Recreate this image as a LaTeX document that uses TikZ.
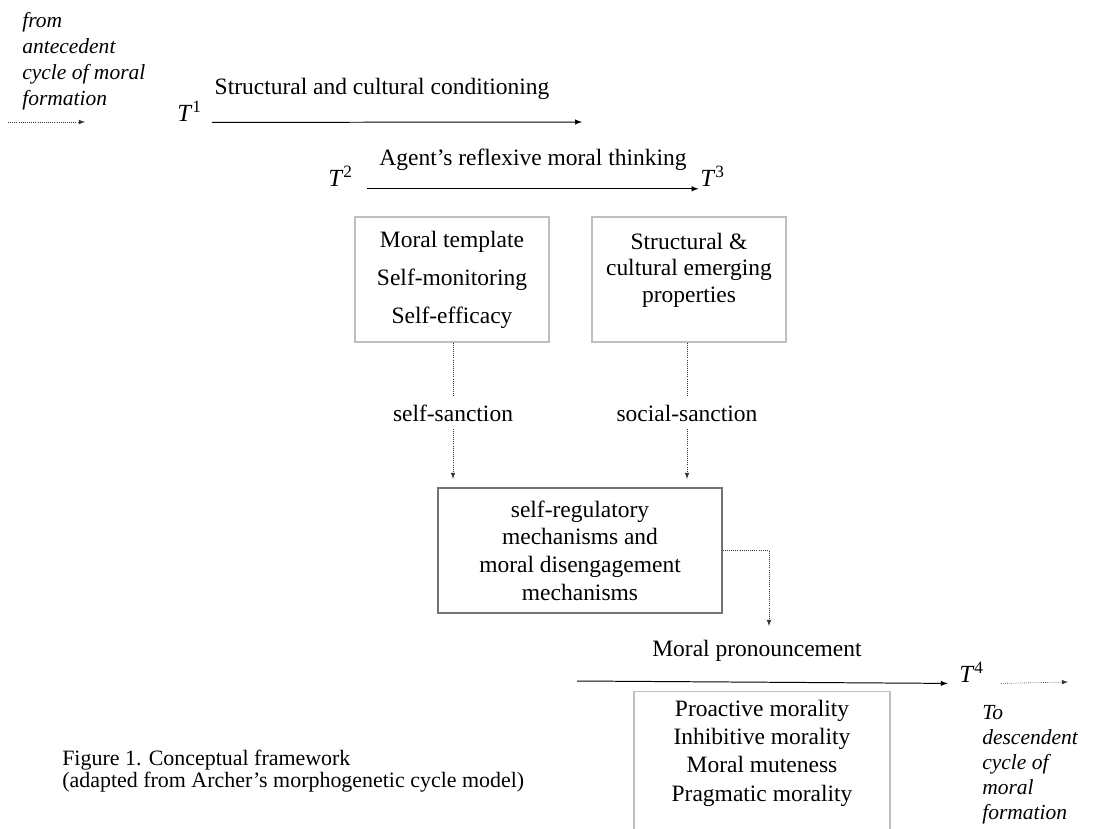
\documentclass[tikz,border=0pt]{standalone}
\usepackage{fontspec}
\setmainfont{Liberation Serif}
\usetikzlibrary{calc}

\newcommand{\tpoint}[1]{\textit{T}\textsuperscript{#1}}

\tikzset{
	lbl/.style={font=\fontsize{16.7}{20}\selectfont, inner sep=0pt},
	tlab/.style={font=\fontsize{17.5}{20}\selectfont, inner sep=0pt},
	note/.style={font=\fontsize{15.3}{18.5}\selectfont\itshape, align=left, inner sep=0pt},
	capt/.style={font=\fontsize{15.6}{15.8}\selectfont, align=left, inner sep=0pt},
	softbox/.style={draw=black!25, line width=1pt, align=center, inner sep=0pt},
	darkbox/.style={draw=black!55, line width=0.9pt, align=center, inner sep=0pt},
	mainarrow/.style={line width=0.7pt, -latex},
	dotarrow/.style={densely dotted, line width=0.5pt, draw=black!80, -latex},
	dotline/.style={densely dotted, line width=0.5pt, draw=black!80}
}

\begin{document}
\begin{tikzpicture}[x=0.025cm,y=-0.025cm]
	\useasboundingbox (0,0) rectangle (1093,829);
	\clip (0,0) rectangle (1093,829);
	% T1: conditioning
	\node[note, anchor=west] (from) at (22,61) {from\\antecedent\\cycle of moral\\formation};
	\coordinate (ins) at (8,122);
	\coordinate (ine) at (85,122);
	\draw[dotarrow] (ins) -- (ine);
	\node[tlab, anchor=base west] (t1) at (177,121) {\tpoint{1}};
	\coordinate (c1e) at (582,122);
	\draw[mainarrow] ([xshift=7pt,yshift=-1pt]t1.base east) -- (c1e);
	\node[lbl] (cond) at (382,89) {Structural and cultural conditioning};
	% T2-T3: reflexive thinking
	\node[lbl] (think) at (533,160) {Agent’s reflexive moral thinking};
	\node[tlab, anchor=base west] (t2) at (328,186) {\tpoint{2}};
	\node[tlab, anchor=base west] (t3) at (700,186) {\tpoint{3}};
	\draw[mainarrow] ([xshift=10pt,yshift=-2pt]t2.base east) -- ([xshift=-1pt,yshift=-2pt]t3.base west);
	\node[softbox, minimum width=4.85cm, minimum height=3.125cm, font=\fontsize{16.7}{27}\selectfont] (tmpl) at (452,279.5) {Moral template\\Self-monitoring\\Self-efficacy};
	\node[softbox, minimum width=4.85cm, minimum height=3.125cm, font=\fontsize{16.7}{18.8}\selectfont] (emerg) at (689,279.5) {Structural \&\\cultural emerging\\properties\rule[-17pt]{0pt}{17pt}};
	\node[lbl, inner sep=5pt] (selfsanc) at (453,413) {self-sanction};
	\node[lbl, inner sep=5pt] (socsanc) at (687,413) {social-sanction};
	\node[darkbox, minimum width=7.1cm, minimum height=3.125cm, font=\fontsize{16.7}{19.7}\selectfont] (regmech) at (580,550.5) {self-regulatory\\mechanisms and\\moral disengagement\\mechanisms};
	\foreach \b/\s in {tmpl/selfsanc, emerg/socsanc}{
		\draw[dotline] (\s.north |- \b.south) -- (\s.north);
		\draw[dotarrow, shorten >=6pt] (\s.south) -- (\s.south |- regmech.north);
	}
	% T4: pronouncement
	\coordinate (pdrop) at (769,626);
	\draw[dotarrow] (regmech.east) -| (pdrop);
	\node[lbl] (pron) at (757,651) {Moral pronouncement};
	\coordinate (c4s) at (577,681);
	\node[tlab, anchor=base west] (t4) at (959,682) {\tpoint{4}};
	\draw[mainarrow] (c4s) -- ([xshift=-8pt,yshift=-1pt]t4.base west);
	\coordinate (oute) at (1068,682);
	\draw[dotarrow] ([xshift=12pt,yshift=-1pt]t4.base east) -- (oute);
	\node[softbox, anchor=north, minimum width=6.4cm, inner sep=6pt, font=\fontsize{16.7}{20.1}\selectfont] (outcome) at (762,691) {Proactive morality\\Inhibitive morality\\Moral muteness\\Pragmatic morality\rule[-2cm]{0pt}{2cm}};
	\node[note, font=\fontsize{15.3}{17.8}\selectfont\itshape, anchor=west] (to) at (982,765) {To\\descendent\\cycle of\\moral\\formation};
	% caption
	\node[capt, anchor=west] (fig) at (62,771) {Figure 1. Conceptual framework\\(adapted from Archer’s morphogenetic cycle model)};
\end{tikzpicture}
\end{document}
